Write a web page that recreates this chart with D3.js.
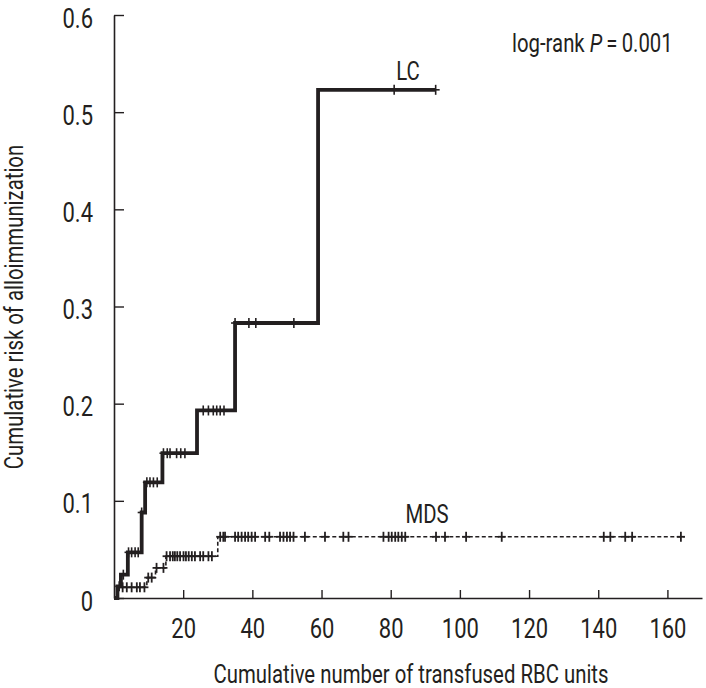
<!DOCTYPE html>
<html>
<head>
<meta charset="utf-8">
<script src="https://cdn.jsdelivr.net/npm/d3@7"></script>
<style>
  html, body { margin: 0; padding: 0; background: #fff; }
  svg { display: block; }
  text { font-family: "Liberation Sans Narrow", "Roboto", "Liberation Sans", sans-serif; fill: #231f20; }
</style>
</head>
<body>
<svg id="chart" width="706" height="688"></svg>
<script>
// ---- Data ----
const xTicks = [20, 40, 60, 80, 100, 120, 140, 160];
const yTicks = [0, 0.1, 0.2, 0.3, 0.4, 0.5, 0.6];

// LC: event times and cumulative risk after each step
const lcTimes = [0, 1, 2, 4, 8, 9, 14, 24, 35, 59];
const lcRisk  = [0, 0.012, 0.024, 0.047, 0.088, 0.119, 0.149, 0.193, 0.283, 0.523];
const lcEnd = 93;
const lcCensor = [1.5, 2.7, 4.2, 5.1, 6.1, 7.0, 8.0, 9.5, 10.4, 11.4, 12.5,
  14.3, 15.4, 16.2, 18.1, 19.3, 20.5, 25.8, 27.3, 28.7, 29.7, 30.7, 31.8,
  35, 39, 41, 52, 81, 93];

// MDS
const mdsTimes = [0, 1, 9.5, 12, 15, 30];
const mdsRisk  = [0, 0.011, 0.021, 0.031, 0.043, 0.063];
const mdsEnd = 165;
const mdsCensor = [2.5, 3.7, 5.1, 6.6, 7.5, 8.8, 9.9, 10.9, 12.3, 14.3,
  15.2, 16.2, 17, 17.6, 18.3, 19.1, 20.1, 20.8, 21.6, 22.5, 23.4, 24.9, 25.8, 27.3, 28.3,
  30.7, 31.6, 32.1, 35, 35.9, 36.9, 37.9, 38.8, 39.8, 40.8, 43.7, 44.9,
  48, 49, 50, 50.9, 51.9, 55.2, 61, 66.3, 67.8,
  77.9, 79.4, 80.3, 81.3, 82.2, 83.2, 84.2, 93.1, 95.7, 101.8, 112.1,
  141.6, 143.5, 147.8, 149.8, 163.9];

const seriesLabels = ["LC", "MDS"];
const xTitle = "Cumulative number of transfused RBC units";
const yTitle = "Cumulative risk of alloimmunization";

// ---- Chart ----
const svg = d3.select("#chart");
const ink = "#231f20";
const FS = 25;      // titles and labels
const TFS = 27;     // tick labels

const x = d3.scaleLinear().domain([0, 170]).range([114, 702]);
const y = d3.scaleLinear().domain([0, 0.6]).range([598, 15]);

// axes
const xAxis = d3.axisBottom(x).tickValues(xTicks).tickSizeInner(-8).tickSizeOuter(0).tickPadding(21);
const yAxis = d3.axisLeft(y).tickValues(yTicks).tickSizeInner(-10).tickSizeOuter(0).tickPadding(21)
  .tickFormat(d => d === 0 ? "0" : d3.format(".1f")(d));

const gx = svg.append("g").attr("transform", `translate(0,${y(0)})`).call(xAxis);
const gy = svg.append("g").attr("transform", `translate(${x(0)},0)`).call(yAxis);
[gx, gy].forEach(g => {
  g.select(".domain").attr("stroke", ink).attr("stroke-width", 1.6);
  g.selectAll(".tick line").attr("stroke", ink).attr("stroke-width", 1.4);
  g.selectAll(".tick text").attr("font-size", TFS).attr("font-family", null).attr("fill", ink);
});
gy.selectAll(".tick text").attr("dy", "0.45em");

// titles
const xt = svg.append("text").attr("x", 411).attr("y", 683).attr("text-anchor", "middle")
  .attr("font-size", FS).text(xTitle);
svg.append("text").attr("transform", "translate(23,307) rotate(-90)")
  .attr("text-anchor", "middle").attr("font-size", FS).text(yTitle);

// condense factor so the (narrow) reference letter widths are matched
const k = Math.min(1, 395 / xt.node().getComputedTextLength());
svg.selectAll("text").each(function () {
  const w = this.getComputedTextLength();
  d3.select(this).attr("textLength", w * k).attr("lengthAdjust", "spacingAndGlyphs");
});

// step helpers
function stepPoints(times, risk, end) {
  const pts = times.map((t, i) => [t, risk[i]]);
  pts.push([end, risk[risk.length - 1]]);
  return pts;
}
function riskAt(times, risk, t) {
  const i = d3.bisectRight(times, t) - 1;
  return risk[Math.max(0, i)];
}
const line = d3.line().x(d => x(d[0])).y(d => y(d[1])).curve(d3.curveStepAfter);

// MDS curve (dashed, thin)
svg.append("path").datum(stepPoints(mdsTimes, mdsRisk, mdsEnd))
  .attr("d", line).attr("fill", "none").attr("stroke", ink)
  .attr("stroke-width", 1.6).attr("stroke-dasharray", "4,2.5");
const mdsG = svg.append("g").attr("stroke", ink).attr("stroke-width", 1.8);
mdsCensor.forEach(t => {
  const cx = x(t), cy = y(riskAt(mdsTimes, mdsRisk, t));
  mdsG.append("line").attr("x1", cx - 4).attr("x2", cx + 4).attr("y1", cy).attr("y2", cy);
  mdsG.append("line").attr("x1", cx).attr("x2", cx).attr("y1", cy - 5).attr("y2", cy + 5);
});

// LC curve (thick solid)
svg.append("path").datum(stepPoints(lcTimes, lcRisk, lcEnd))
  .attr("d", line).attr("fill", "none").attr("stroke", ink)
  .attr("stroke-width", 3.8).attr("stroke-linejoin", "miter");
const lcG = svg.append("g").attr("stroke", ink).attr("stroke-width", 1.6);
lcCensor.forEach(t => {
  const cx = x(t), cy = y(riskAt(lcTimes, lcRisk, t));
  lcG.append("line").attr("x1", cx).attr("x2", cx).attr("y1", cy - 5).attr("y2", cy + 5);
  lcG.append("line").attr("x1", cx - 4).attr("x2", cx + 4).attr("y1", cy).attr("y2", cy);
});

// series labels
function condText(cx, cy, str) {
  const t = svg.append("text").attr("x", cx).attr("y", cy).attr("text-anchor", "middle")
    .attr("font-size", FS).text(str);
  t.attr("textLength", t.node().getComputedTextLength() * k).attr("lengthAdjust", "spacingAndGlyphs");
  return t;
}
condText(408, 80, seriesLabels[0]);
condText(427, 523, seriesLabels[1]);

// log-rank annotation (condensed via horizontal scale)
const ann = svg.append("text").attr("transform", `translate(512,52) scale(${k},1)`)
  .attr("x", 0).attr("y", 0).attr("font-size", FS);
ann.append("tspan").text("log-rank ");
ann.append("tspan").attr("font-style", "italic").text("P");
ann.append("tspan").text("\u2009=\u20090.001");
</script>
</body>
</html>
